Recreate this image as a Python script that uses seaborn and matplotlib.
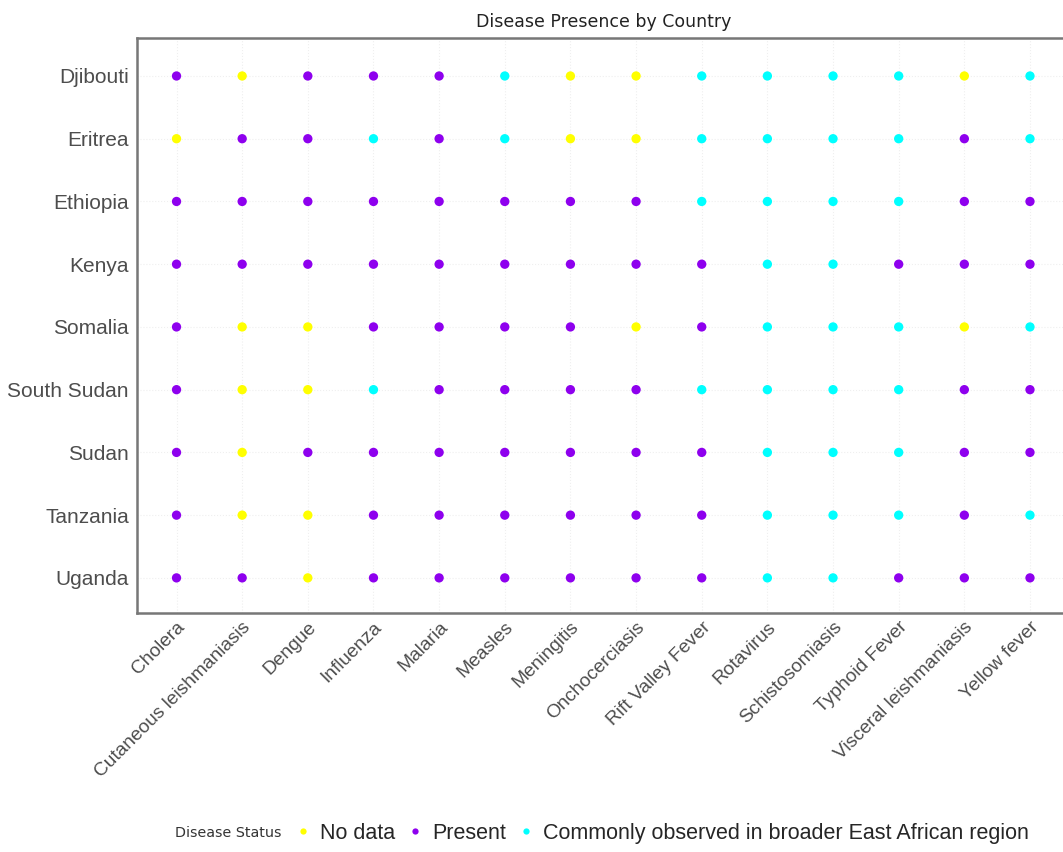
import pandas as pd
import seaborn as sns
import matplotlib.pyplot as plt
from matplotlib.lines import Line2D

countries = ["Djibouti", "Eritrea", "Ethiopia", "Kenya", "Somalia",
             "South Sudan", "Sudan", "Tanzania", "Uganda"]
diseases = ["Cholera", "Cutaneous leishmaniasis", "Dengue", "Influenza",
            "Malaria", "Measles", "Meningitis", "Onchocerciasis",
            "Rift Valley Fever", "Rotavirus", "Schistosomiasis",
            "Typhoid Fever", "Visceral leishmaniasis", "Yellow fever"]

# N = No data, P = Present, C = Commonly observed in broader East African region
djibouti = "P N P P P C N N C C C C N C".split()
eritrea = "N P P C P C N N C C C C P C".split()
ethiopia = "P P P P P P P P C C C C P P".split()
kenya = "P P P P P P P P P C C P P P".split()
somalia = "P N N P P P P N P C C C N C".split()
south_sudan = "P N N C P P P P C C C C P P".split()
sudan = "P N P P P P P P P C C C P P".split()
tanzania = "P N N P P P P P P C C C P C".split()
uganda = "P P N P P P P P P C C P P P".split()

status_rows = [djibouti, eritrea, ethiopia, kenya, somalia,
               south_sudan, sudan, tanzania, uganda]
status_names = {"N": "No data", "P": "Present",
                "C": "Commonly observed in broader East African region"}
status_order = ["No data", "Present",
                "Commonly observed in broader East African region"]
palette = {"No data": "#FFFF00", "Present": "#8E00EE",
           "Commonly observed in broader East African region": "#00FFFF"}

records = []
for country, row in zip(countries, status_rows):
    for disease, code in zip(diseases, row):
        records.append({"Country": country, "Disease": disease,
                        "Status": status_names[code]})
df = pd.DataFrame(records)
df["Disease"] = pd.Categorical(df["Disease"], categories=diseases)
df["Country"] = pd.Categorical(df["Country"], categories=countries)

sns.set_theme(style="white")
plt.rcParams["font.family"] = ["Liberation Sans", "DejaVu Sans"]

fig = plt.figure(figsize=(10.63, 8.52), dpi=100)
ax = fig.add_axes([0.129, 0.2805, 0.877, 0.6745])

sns.scatterplot(data=df, x="Disease", y="Country", hue="Status",
                hue_order=status_order, palette=palette, s=45,
                edgecolor="none", legend=False, ax=ax, zorder=3)

ax.set_xlim(-0.6, len(diseases) - 0.4)
ax.set_ylim(len(countries) - 0.44, -0.6)
ax.grid(True, color="#efefef", linestyle=":", linewidth=0.8)
ax.set_xlabel("")
ax.set_ylabel("")
ax.set_title("Disease Presence by Country", fontsize=12.5, pad=8,
             family="DejaVu Sans", color="#222222")
ax.tick_params(axis="both", length=0, labelcolor="#4d4d4d")
ax.tick_params(axis="y", pad=6, labelsize=15)
ax.tick_params(axis="x", pad=4, labelsize=13.8)
plt.setp(ax.get_xticklabels(), rotation=45, ha="right",
         rotation_mode="anchor")
for sp in ax.spines.values():
    sp.set_color("#777777")
    sp.set_linewidth(1.8)

handles = [Line2D([], [], marker="o", linestyle="", markersize=4.5,
                  markerfacecolor=palette[s], markeredgecolor="none")
           for s in status_order]
fig.text(0.1646, 0.022, "Disease Status", fontsize=10.3, va="center",
         family="DejaVu Sans", color="#333333")
fig.legend(handles, status_order, loc="center left", ncol=3, frameon=False,
           bbox_to_anchor=(0.2766, 0.022), borderaxespad=0, borderpad=0,
           fontsize=15.5, handletextpad=0.42, columnspacing=0.5,
           handlelength=0.8)

fig.savefig("out.png", dpi=100)
